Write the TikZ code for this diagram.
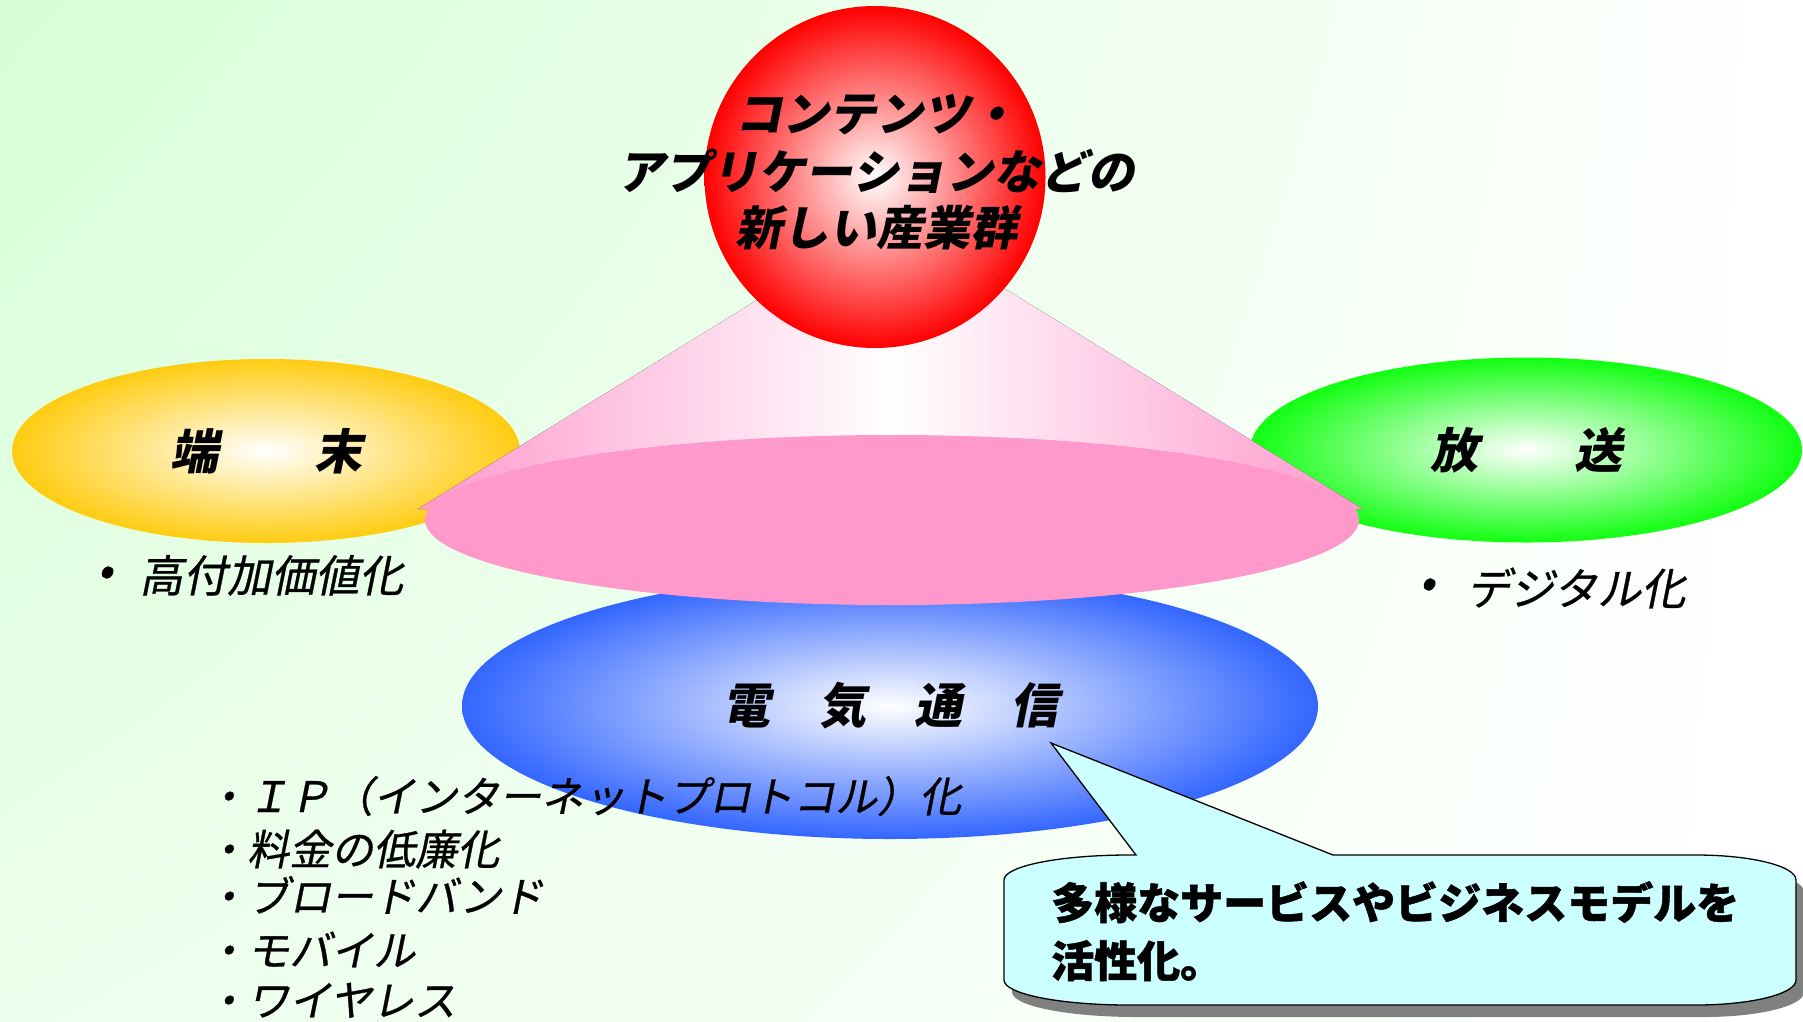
\documentclass[tikz,border=0pt]{standalone}
\usepackage{fontspec}
\usetikzlibrary{shapes.geometric,shadings}
\newfontfamily\jpi{Noto Sans CJK JP}[FakeSlant=0.2]
\newfontfamily\jpim{Noto Sans CJK JP}[FakeSlant=0.2, FakeBold=0.7]
\newfontfamily\jpu{Noto Sans CJK JP}[BoldFeatures={FakeBold=1.2}]
\definecolor{bgA}{HTML}{D6FFD6}
\definecolor{bgC}{HTML}{ECFFEC}
\definecolor{yelC}{HTML}{FFCC11}
\definecolor{grnC}{HTML}{11FF11}
\definecolor{bluC}{HTML}{3366FF}
\definecolor{pinkC}{HTML}{FF99CC}
\definecolor{redC}{HTML}{FF0000}
\definecolor{callC}{HTML}{CCFFFF}
\definecolor{shadC}{HTML}{808080}
\tikzset{
  blob/.style={ellipse, inner sep=0pt, outer sep=0pt},
  headfont/.style={font=\jpi\bfseries\fontsize{48pt}{56pt}\selectfont},
  spherefont/.style={font=\jpi\bfseries\fontsize{47pt}{56pt}\selectfont},
  listfont/.style={font=\jpim\fontsize{42pt}{50pt}\selectfont, inner sep=0pt, anchor=base west},
  bulfont/.style={font=\jpim\fontsize{44pt}{50pt}\selectfont, inner sep=0pt},
  callfont/.style={font=\jpu\bfseries\fontsize{43pt}{50pt}\selectfont, inner sep=0pt, anchor=base west},
}
\newcommand\myboxpath{(1004,880) .. controls (1004,866) and (1060,855) .. (1129,855) -- (1696,855) .. controls (1751,855) and (1796,866) .. (1796,880) -- (1796,980) .. controls (1796,994) and (1751,1005) .. (1696,1005) -- (1129,1005) .. controls (1060,1005) and (1004,994) .. (1004,980) -- cycle}
\begin{document}
\begin{tikzpicture}[x=1pt,y=-1pt]
\useasboundingbox (0,0) rectangle (1803,1021);
\shade[upper left=bgA, upper right=white, lower left=bgC, lower right=white] (0,0) rectangle (1803,1021);

% side ellipses
\node[blob, minimum width=508pt, minimum height=184pt, inner color=white, outer color=yelC, headfont] (term) at (266,451) {端　　末};
\node[blob, minimum width=552pt, minimum height=185pt, inner color=white, outer color=grnC, headfont] (bcast) at (1526,450) {放　　送};
\node[blob, minimum width=856pt, minimum height=266pt, inner color=white, outer color=bluC, headfont] (tele) at (890,706) {電　気　通　信};

% cone
\coordinate (apex) at (890,218);
\coordinate (cl) at (418,509);
\coordinate (cr) at (1363,509);
\fill[left color=pinkC, right color=pinkC, middle color=white] (apex) -- (cl) -- (cr) -- cycle;
\node[blob, minimum width=934pt, minimum height=170pt, fill=pinkC] (disc) at (892,520) {};

% sphere
\node[blob, minimum width=341pt, minimum height=342pt, inner color=white, outer color=redC] (sphere) at (875,177) {};
\node[spherefont, inner sep=0pt, anchor=base] (s1) at (876,131) {コンテンツ・};
\node[spherefont, inner sep=0pt, anchor=base] (s2) at (876,189) {アプリケーションなどの};
\node[spherefont, inner sep=0pt, anchor=base] (s3) at (876,245) {新しい産業群};

% bullets under side ellipses
\node[bulfont] (b1) at (105,576) {•};
\node[bulfont, anchor=base west] (t1) at (139,592) {高付加価値化};
\node[bulfont] (b2) at (1427,588) {•};
\node[bulfont, anchor=base west] (t2) at (1466,605) {デジタル化};

% list
\node[listfont] (l1) at (205,812) {・ＩＰ（インターネットプロトコル）化};
\node[listfont] (l2) at (205,865) {・料金の低廉化};
\node[listfont] (l3) at (205,912) {・ブロードバンド};
\node[listfont] (l4) at (205,966) {・モバイル};
\node[listfont] (l5) at (205,1016) {・ワイヤレス};

% callout
\fill[shadC, shift={(8,12)}] \myboxpath;
\coordinate (ctip) at (1051,743);
\coordinate (cb1) at (1136,855);
\coordinate (cb2) at (1333,855);
\filldraw[fill=callC, draw=black, line width=1.3pt, line join=miter]
  (cb1) -- (ctip) -- (cb2) -- (1696,855) .. controls (1751,855) and (1796,866) .. (1796,880) -- (1796,980) .. controls (1796,994) and (1751,1005) .. (1696,1005) -- (1129,1005) .. controls (1060,1005) and (1004,994) .. (1004,980) -- (1004,880) .. controls (1004,866) and (1060,855) .. (1129,855) -- cycle;
\node[callfont] (c1) at (1051,919) {多様なサービスやビジネスモデルを};
\node[callfont] (c2) at (1051,977) {活性化。};
\end{tikzpicture}
\end{document}
